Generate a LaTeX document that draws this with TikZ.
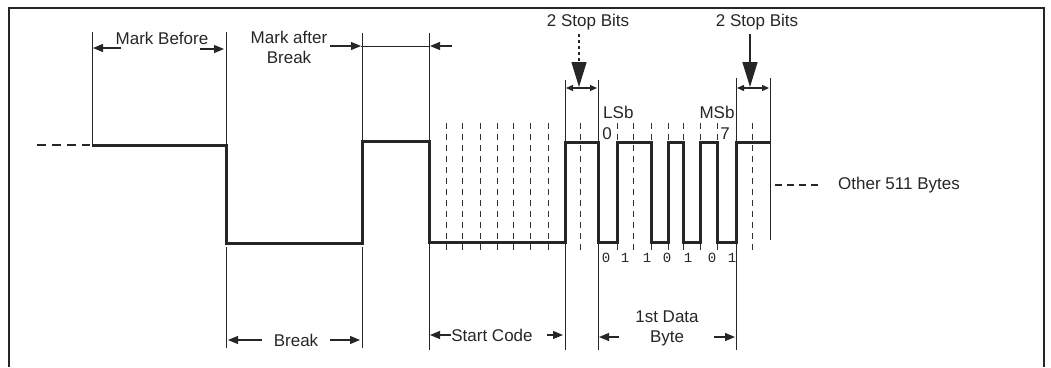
\documentclass[tikz,border=0pt]{standalone}
\usepackage{fontspec}
\setmainfont{Liberation Sans}
\newfontfamily\monof{Liberation Mono}
\usetikzlibrary{arrows.meta}
\begin{document}
\begin{tikzpicture}[x=1pt,y=-1pt,
  sig/.style={line width=3pt, line join=miter, color=black!85},
  dimline/.style={line width=1pt, color=black!85},
  gridline/.style={line width=1pt, dash pattern=on 6pt off 5pt, color=black!80},
  lbl/.style={font=\fontsize{17}{20}\selectfont, inner sep=0pt, text=black!85},
  bitlbl/.style={font=\monof\fontsize{14}{14}\selectfont, inner sep=0pt, text=black!85},
  arr/.style={-{Triangle[length=10pt,width=8pt]}, line width=1.1pt, color=black!85},
  duo/.style={{Triangle[length=7pt,width=6pt]}-{Triangle[length=7pt,width=6pt]}, line width=1.1pt, color=black!85},
  bigarr/.style={-{Triangle[length=25pt,width=15pt]}, line width=1.4pt, color=black!85}]
\useasboundingbox (0,0) rectangle (1051,367);
% frame
\draw[line width=1.6pt, color=black!85] (9,367) -- (9,8) -- (1044,8) -- (1044,367);

% bit grid (dashed)
\foreach \gx in {446,462,480,497,513,530,548,580,617,633,651,668,683,700,717,752}
  \draw[gridline] (\gx,123) -- (\gx,252);

% dimension verticals
\draw[dimline] (92,32) -- (92,145);
\draw[dimline] (226,32) -- (226,145);
\draw[dimline] (362,33) -- (362,141);
\draw[dimline] (429,33) -- (429,350);
\draw[dimline] (565,80) -- (565,350);
\draw[dimline] (598,80) -- (598,350);
\draw[dimline] (736,78) -- (736,350);
\draw[dimline] (770,78) -- (770,240);
\draw[dimline] (226,247) -- (226,348);
\draw[dimline] (362,247) -- (362,348);

% signal
\draw[line width=1.8pt, color=black!85, dash pattern=on 9pt off 6pt] (37,145) -- (90,145);
\draw[sig] (92,145) -- (226,145) -- (226,243) -- (362,243) -- (362,141)
  -- (429,141) -- (429,242) -- (565,242) -- (565,142) -- (598,142)
  -- (598,242) -- (617,242) -- (617,142) -- (651,142) -- (651,242)
  -- (668,242) -- (668,142) -- (683,142) -- (683,242) -- (700,242)
  -- (700,142) -- (717,142) -- (717,242) -- (736,242) -- (736,142)
  -- (770,142);

% Mark Before
\node[lbl] (mb) at (162,38) {Mark Before};
\coordinate (mbL) at (93,48);
\coordinate (mbLt) at (121,48);
\coordinate (mbR) at (224,49);
\coordinate (mbRt) at (200,49);
\draw[arr] (mbLt) -- (mbL);
\draw[arr] (mbRt) -- (mbR);

% Mark after Break
\node[lbl, align=center] (mab) at (289,47) {Mark after\\Break};
\coordinate (mabA) at (330,46);
\coordinate (mabB) at (361,46);
\coordinate (mabC) at (429,46);
\coordinate (mabD) at (452,46);
\draw[arr] (mabA) -- (mabB);
\draw[dimline] (mabB) -- (mabC);
\draw[arr] (mabD) -- (430,46);

% Break
\node[lbl] (brk) at (296,340) {Break};
\coordinate (bL) at (228,340);
\coordinate (bR) at (360,340);
\draw[arr] (brk.west) ++(-12,0) -- (bL);
\draw[arr] (brk.east) ++(12,0) -- (bR);

% Start Code
\node[lbl] (sc) at (492,335) {Start Code};
\coordinate (scL) at (430,335);
\coordinate (scR) at (563,335);
\draw[arr] (sc.west) -- (scL);
\draw[arr] (547,335) -- (scR);

% 1st Data Byte
\node[lbl, align=center] (db) at (667,328) {1st Data\\Byte};
\coordinate (dbL) at (599,337);
\coordinate (dbR) at (735,337);
\draw[arr] (619,337) -- (dbL);
\draw[arr] (714,337) -- (dbR);

% Stop bits
\node[lbl] (sb1) at (588,22) {2 Stop Bits};
\node[lbl] (sb2) at (757,22) {2 Stop Bits};
\draw[bigarr, dash pattern=on 3pt off 3pt] (579,34) -- (579,87);
\draw[bigarr] (750,34) -- (750,87);
\draw[duo] (566,88) -- (597,88);
\draw[duo] (737,88) -- (769,88);

% LSb / MSb
\node[lbl, anchor=west] (lsb) at (603,112) {LSb};
\node[lbl] (zero) at (607,134) {0};
\node[lbl] (msb) at (717,112) {MSb};
\node[lbl] (seven) at (725,134) {7};

% bit values
\foreach \bx/\bv in {606/0,625/1,647/1,667/0,688/1,712/0,732/1}
  \node[bitlbl] at (\bx,258) {\bv};

% Other 511 Bytes
\coordinate (oA) at (775,185);
\coordinate (oB) at (821,185);
\draw[dimline, line width=1.4pt, dash pattern=on 7pt off 5pt] (oA) -- (oB);
\node[lbl, anchor=west] (other) at (838,185) {Other 511 Bytes};
\end{tikzpicture}
\end{document}
